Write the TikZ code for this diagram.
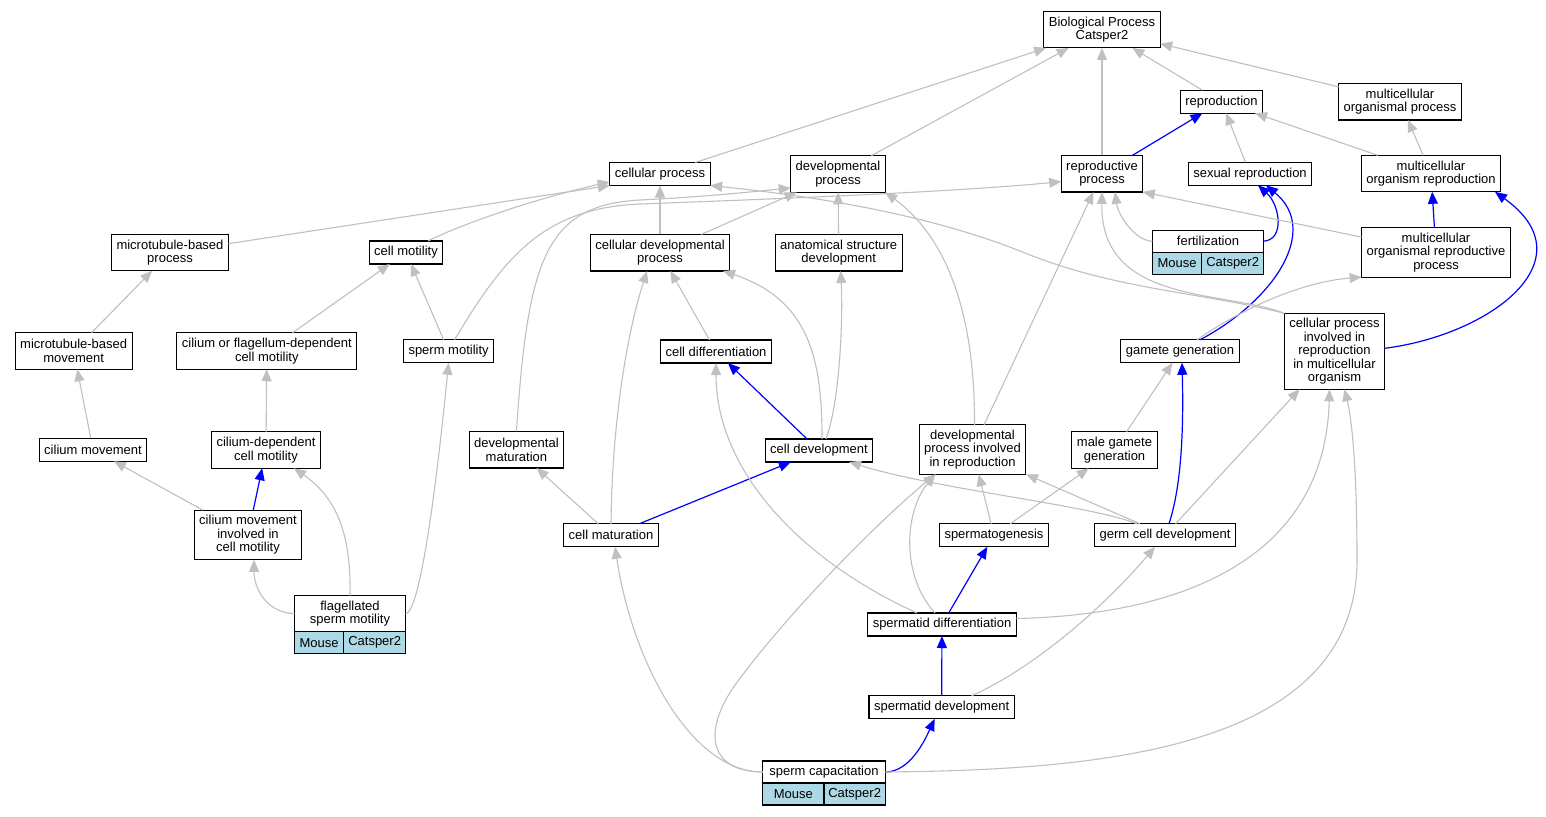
\documentclass[tikz,border=0pt]{standalone}
\usepackage{fontspec}
\setmainfont{Liberation Sans}
\usetikzlibrary{arrows.meta}
\definecolor{edgegray}{HTML}{C0C0C0}
\definecolor{edgeblue}{HTML}{0000FF}
\definecolor{tablefill}{HTML}{ADD8E6}

\begin{document}
\begin{tikzpicture}[x=1pt, y=-1pt,
        term/.style={draw=black, line width=1.1pt, fill=white, align=center,
                     font=\fontsize{13}{13.5}\selectfont, inner xsep=5pt,
                     inner ysep=0pt, outer sep=0pt, minimum height=23pt},
        two/.style={term, minimum height=36.5pt},
        three/.style={term, minimum height=49.5pt},
        five/.style={term, minimum height=76pt},
        cell/.style={term, fill=tablefill, inner xsep=2pt, minimum height=22pt},
        grayedge/.style={draw=edgegray, line width=1.1pt,
                         -{Triangle[length=12pt,width=10pt]}},
        blueedge/.style={draw=edgeblue, line width=1.2pt,
                         -{Triangle[length=12pt,width=10pt]}}]
    \path[use as bounding box, fill=white] (0,0) rectangle (1546,816);

    \node[two] (bp) at (1102,29.7) {Biological Process\\Catsper2};
    \node[term] (repro) at (1221.5,101.7) {reproduction};
    \node[two] (mop) at (1400,101.7) {multicellular\\organismal process};
    \node[term] (cp) at (660,174) {cellular process};
    \node[two] (dp) at (838,174) {developmental\\process};
    \node[two] (rp) at (1102,173.7) {reproductive\\process};
    \node[term] (sr) at (1250,173.8) {sexual reproduction};
    \node[two] (mor) at (1431,173.6) {multicellular\\organism reproduction};
    \node[term, minimum height=22.3pt, minimum width=111pt] (fert) at (1208,241.2) {fertilization};
    \node[cell, minimum width=49.3pt, anchor=north west] (fertmouse) at (fert.south west) {Mouse};
    \node[cell, minimum width=61.7pt, anchor=north east] (fertgene) at (fert.south east) {Catsper2};
    \node[three] (morp) at (1436,252.4) {multicellular\\organismal reproductive\\process};
    \node[two] (mbp) at (170,252.5) {microtubule-based\\process};
    \node[term] (cm) at (406,252.5) {cell motility};
    \node[two] (cdp) at (660,252.7) {cellular developmental\\process};
    \node[two] (asd) at (838.7,252.7) {anatomical structure\\development};
    \node[two] (mbm) at (73.7,351) {microtubule-based\\movement};
    \node[two] (cfcm) at (266.8,351) {cilium or flagellum-dependent\\cell motility};
    \node[term] (sm) at (448.6,351.3) {sperm motility};
    \node[term] (cdiff) at (716,351.5) {cell differentiation};
    \node[term] (gg) at (1180,351.3) {gamete generation};
    \node[five] (cpirmo) at (1334.5,351.3) {cellular process\\involved in\\reproduction\\in multicellular\\organism};
    \node[term] (cmov) at (93,449.7) {cilium movement};
    \node[two] (cdcm) at (266,450) {cilium-dependent\\cell motility};
    \node[two] (devmat) at (516.4,449.7) {developmental\\maturation};
    \node[term] (cdev) at (819,450.5) {cell development};
    \node[three] (dpir) at (972.5,449.5) {developmental\\process involved\\in reproduction};
    \node[two] (mgg) at (1114.5,450) {male gamete\\generation};
    \node[three] (cmicm) at (248,535) {cilium movement\\involved in\\cell motility};
    \node[term] (cmat) at (611,535.3) {cell maturation};
    \node[term] (sg) at (994,535.3) {spermatogenesis};
    \node[term] (gcd) at (1165,535.3) {germ cell development};
    \node[term, minimum height=36pt, minimum width=111pt] (fsm) at (350,613.7) {flagellated\\sperm motility};
    \node[cell, minimum width=49.3pt, anchor=north west] (fsmmouse) at (fsm.south west) {Mouse};
    \node[cell, minimum width=61.7pt, anchor=north east] (fsmgene) at (fsm.south east) {Catsper2};
    \node[term] (sd) at (942,624.5) {spermatid differentiation};
    \node[term] (sdev) at (941.6,707.3) {spermatid development};
    \node[term, minimum height=22pt, minimum width=122.5pt] (sc) at (824,772) {sperm capacitation};
    \node[cell, minimum width=61.25pt, anchor=north west] (scmouse) at (sc.south west) {Mouse};
    \node[cell, minimum width=61.25pt, anchor=north east] (scgene) at (sc.south east) {Catsper2};

    \draw[grayedge] (cp) -- (bp);
    \draw[grayedge] (dp) -- (bp);
    \draw[grayedge] (rp) -- (bp);
    \draw[grayedge] (repro) -- (bp);
    \draw[grayedge] (mop) -- (bp);
    \draw[grayedge] (sr) -- (repro);
    \draw[grayedge] (mor) -- (repro);
    \draw[grayedge] (mor) -- (mop);
    \draw[blueedge] (rp) -- (repro);
    \draw[blueedge] (morp) -- (mor);
    \draw[blueedge] (fert.east) .. controls (1285,240) and (1280,205) .. ([xshift=8pt]sr.south);
    \draw[blueedge] ([xshift=20pt]gg.north) .. controls (1275,300) and (1320,230) .. ([xshift=16pt]sr.south);
    \draw[blueedge] ([yshift=3pt]cpirmo.east) .. controls (1490,335) and (1590,260) .. ([xshift=64pt]mor.south);
    \draw[grayedge] (morp) -- (rp.south east);
    \draw[grayedge] ([xshift=17pt]gg.north) .. controls (1240,310) and (1300,282) .. (morp.south west);
    \draw[grayedge] (cpirmo.north west) .. controls (1225,290) and (1100,305) .. (rp.south);
    \draw[grayedge] (fert.west) .. controls (1135,241) and (1118,215) .. ([xshift=13pt]rp.south);
    \draw[grayedge] (dpir) -- (rp);

    \draw[grayedge] (mbp) -- (cp.south west);
    \draw[grayedge] ([xshift=22pt]cm.north) .. controls (470,220) and (550,195) .. ([yshift=-8pt]cp.west);
    \draw[grayedge] (cdp) -- (cp);
    \draw[grayedge] (cpirmo.north west) .. controls (1200,292) and (1120,290) .. (1030,255)
        .. controls (950,222) and (850,200) .. (cp.south east);
    \draw[grayedge] (cdp) -- (dp);
    \draw[grayedge] (asd) -- (dp);
    \draw[grayedge] (devmat.north) .. controls (528,260) and (545,205) .. (640,200)
        .. controls (700,197) and (740,193) .. ([yshift=-14pt]dp.west);
    \draw[grayedge] ([xshift=2pt]dpir.north) .. controls (975,320) and (950,240) .. (dp.south east);
    \draw[grayedge] ([xshift=6pt]sm.north) .. controls (505,255) and (545,208) .. (640,204)
        .. controls (800,198) and (950,192) .. ([yshift=-8pt]rp.west);

    \draw[grayedge] (cfcm) -- (cm);
    \draw[grayedge] (sm) -- (cm);
    \draw[grayedge] (mbm) -- (mbp);
    \draw[grayedge] (cmov) -- (mbm);
    \draw[grayedge] (cdcm) -- (cfcm);
    \draw[grayedge] (cmicm) -- (cmov);
    \draw[blueedge] (cmicm) -- (cdcm);
    \draw[grayedge] (fsm.west) .. controls (268,613) and (254,590) .. ([xshift=6pt]cmicm.south);
    \draw[grayedge] (fsm.north) .. controls (351,540) and (340,500) .. ([xshift=28pt]cdcm.south);
    \draw[grayedge] (fsm.east) .. controls (422,613) and (440,450) .. (sm.south);

    \draw[grayedge] (cmat) -- (devmat);
    \draw[grayedge] (cmat.north) .. controls (612,430) and (625,340) .. ([xshift=-13pt]cdp.south);
    \draw[blueedge] (cmat) -- (cdev);
    \draw[grayedge] (sc.west) .. controls (690,772) and (632,660) .. ([xshift=4pt]cmat.south);
    \draw[grayedge] (sc.west) .. controls (712,772) and (700,735) .. (735,685)
        .. controls (790,610) and (880,520) .. ([xshift=-37pt]dpir.south);
    \draw[grayedge] ([xshift=-25pt]sd.north) .. controls (800,560) and (716,470) .. (cdiff.south);
    \draw[grayedge] ([xshift=-7pt]sd.north) .. controls (900,575) and (905,510) .. ([xshift=-37pt]dpir.south);
    \draw[blueedge] (sd) -- (sg);
    \draw[blueedge] (sdev) -- (sd);
    \draw[blueedge] (sc.east) .. controls (910,772) and (925,740) .. ([xshift=-7pt]sdev.south);
    \draw[grayedge] (sc.east) .. controls (1100,770) and (1357,750) .. (1357,560)
        .. controls (1357,470) and (1352,420) .. ([xshift=10pt]cpirmo.south);
    \draw[grayedge] ([yshift=6pt]sd.east) .. controls (1180,615) and (1325,560) .. ([xshift=-5pt]cpirmo.south);
    \draw[grayedge] (gcd) -- (cpirmo);
    \draw[blueedge] ([xshift=4pt]gcd.north) .. controls (1180,490) and (1184,440) .. ([xshift=2pt]gg.south);
    \draw[grayedge] (mgg) -- (gg);
    \draw[grayedge] (sg) -- (mgg);
    \draw[grayedge] (sg) -- (dpir);
    \draw[grayedge] ([xshift=-25pt]gcd.north) -- (dpir.south east);
    \draw[grayedge] ([xshift=-28pt]gcd.north) .. controls (1090,505) and (940,490) .. ([xshift=30pt]cdev.south);
    \draw[grayedge] ([xshift=30pt]sdev.north) .. controls (1040,665) and (1110,600) .. ([xshift=-10pt]gcd.south);
    \draw[blueedge] (cdev) -- (cdiff);
    \draw[grayedge] (cdiff) -- (cdp);
    \draw[grayedge] ([xshift=3pt]cdev.north) .. controls (822,360) and (810,300) .. ([xshift=63pt]cdp.south);
    \draw[grayedge] ([xshift=7pt]cdev.north) .. controls (840,400) and (843,320) .. ([xshift=2pt]asd.south);
\end{tikzpicture}
\end{document}
